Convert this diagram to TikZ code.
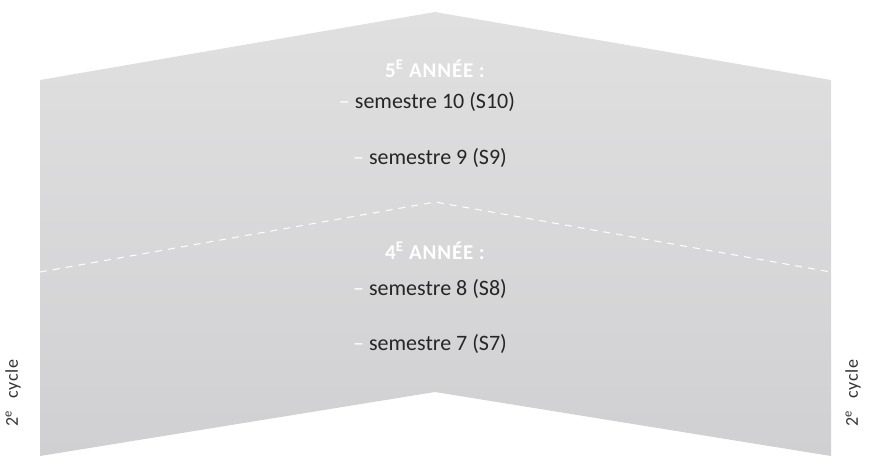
\documentclass[tikz,border=0pt]{standalone}
\usepackage{fontspec}
\setmainfont{Carlito}
\newcommand{\whdash}{\textcolor{white}{–} }
\begin{document}
\begin{tikzpicture}[x=1pt,y=-1pt,
  title/.style={text=white,font=\bfseries\fontsize{21}{24}\selectfont\addfontfeature{LetterSpace=4},inner sep=0pt,anchor=base},
  item/.style={text=black!85,font=\fontsize{22}{26}\selectfont,inner sep=0pt,anchor=base},
  side/.style={text=black!80,font=\fontsize{18}{21}\selectfont\addfontfeature{LetterSpace=5},rotate=90,inner sep=0pt}]
\definecolor{topgray}{RGB}{224,224,225}
\definecolor{botgray}{RGB}{208,208,210}
\useasboundingbox (0,0) rectangle (871,456);
\shade[top color=topgray,bottom color=botgray,shading angle=0]
  (40,80) -- (435,12) -- (831,80) -- (831,456) -- (435,392) -- (40,456) -- cycle;
\coordinate (dl) at (40,272);
\coordinate (dp) at (435,202);
\coordinate (dr) at (831,272);
\draw[white,dashed,line width=1pt,dash pattern=on 7pt off 6pt] (dl) -- (dp) -- (dr);
\node[title] (t5) at (435,77) {5\textsuperscript{E} ANNÉE :};
\node[item] (s10) at (427,108) {\whdash semestre 10 (S10)};
\node[item] (s9) at (430,164) {\whdash semestre 9 (S9)};
\node[title] (t4) at (435,259) {4\textsuperscript{E} ANNÉE :};
\node[item] (s8) at (430,295) {\whdash semestre 8 (S8)};
\node[item] (s7) at (430,350) {\whdash semestre 7 (S7)};
\node[side] (cl) at (13,393) {2\textsuperscript{e}\hspace{0.4em} cycle};
\node[side] (cr) at (853,393) {2\textsuperscript{e}\hspace{0.4em} cycle};
\end{tikzpicture}
\end{document}
